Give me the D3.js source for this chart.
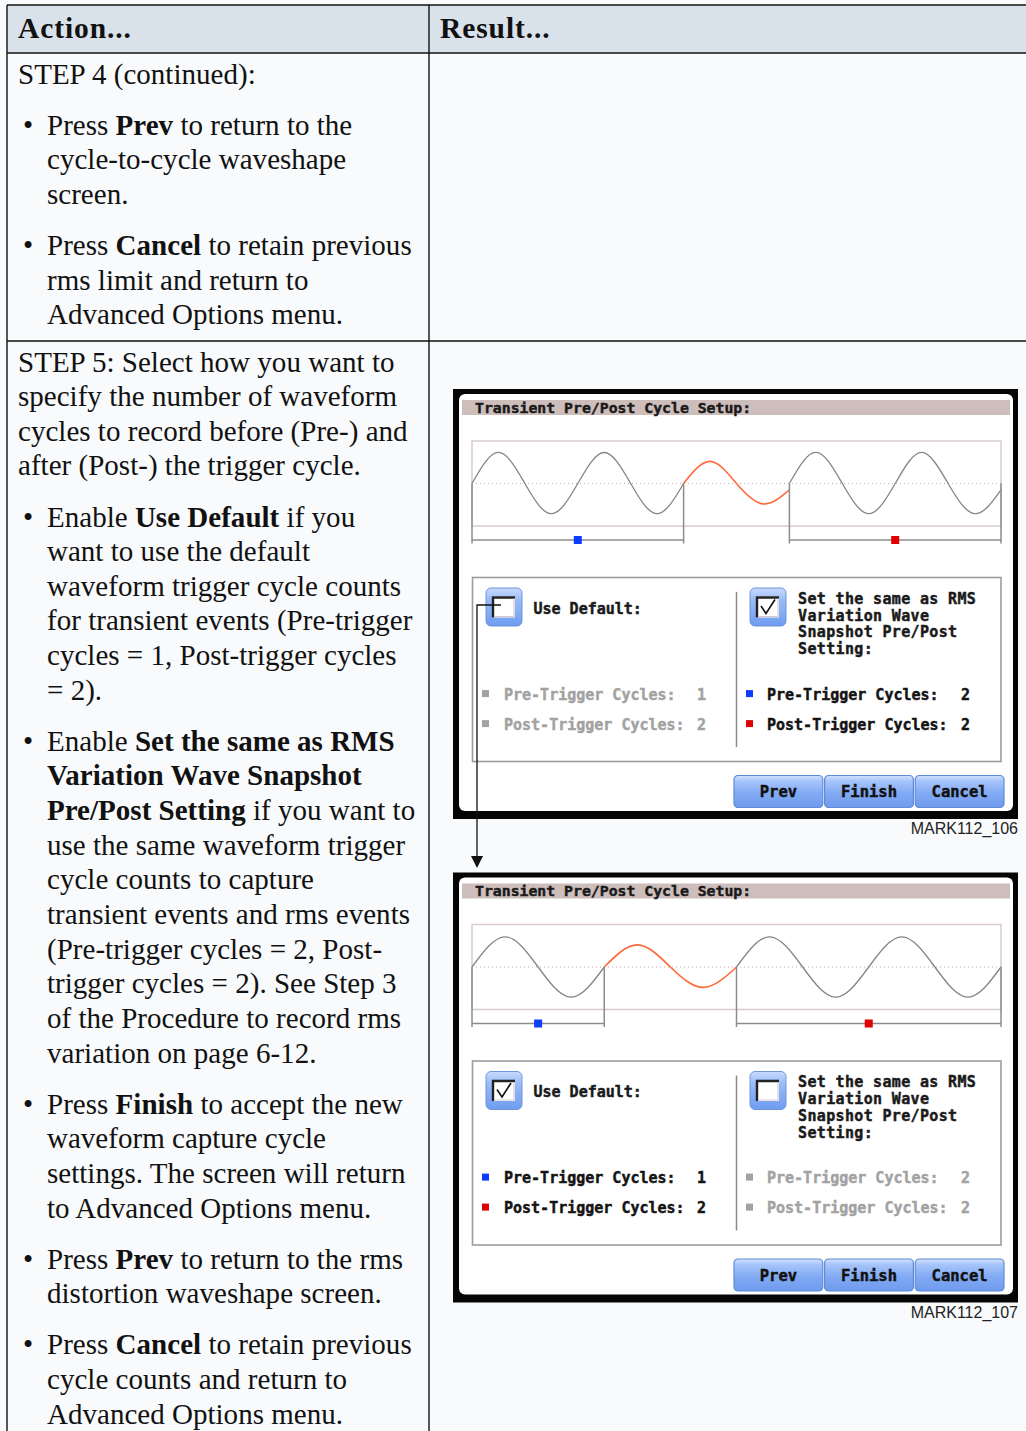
<!DOCTYPE html>
<html><head><meta charset="utf-8">
<script src="https://cdn.jsdelivr.net/npm/d3@7"></script>
<style>
html,body{margin:0;padding:0;background:#f8fafc;}
svg{display:block;}
</style></head><body>
<svg id="page" width="1026" height="1431"></svg>
<script>
// ---------------- data ----------------
const headers = ["Action...", "Result..."];

const step4Paras = [
  ["STEP 4 (continued):"],
  ["Press **Prev** to return to the", "cycle-to-cycle waveshape", "screen."],
  ["Press **Cancel** to retain previous", "rms limit and return to", "Advanced Options menu."]
];
const step4Bullets = [false, true, true];

const step5Paras = [
  ["STEP 5: Select how you want to", "specify the number of waveform", "cycles to record before (Pre-) and", "after (Post-) the trigger cycle."],
  ["Enable **Use Default** if you", "want to use the default", "waveform trigger cycle counts", "for transient events (Pre-trigger", "cycles = 1, Post-trigger cycles", "= 2)."],
  ["Enable **Set the same as RMS**", "**Variation Wave Snapshot**", "**Pre/Post Setting** if you want to", "use the same waveform trigger", "cycle counts to capture", "transient events and rms events", "(Pre-trigger cycles = 2, Post-", "trigger cycles = 2). See Step 3", "of the Procedure to record rms", "variation on page 6-12."],
  ["Press **Finish** to accept the new", "waveform capture cycle", "settings. The screen will return", "to Advanced Options menu."],
  ["Press **Prev** to return to the rms", "distortion waveshape screen."],
  ["Press **Cancel** to retain previous", "cycle counts and return to", "Advanced Options menu."]
];
const step5Bullets = [false, true, true, true, true, true];

// screen contents
const screenTitle = "Transient Pre/Post Cycle Setup:";
const screenLabels = ["MARK112_106", "MARK112_107"];
const useDefaultChecked = [false, true];
const preCycleCounts = [2, 1];     // pre-trigger cycles drawn in each screen
const postCycleCounts = [2, 2];    // post-trigger cycles drawn in each screen
const defaultCounts = [1, 2];      // Use Default: Pre, Post
const rmsCounts = [2, 2];          // Same as RMS: Pre, Post
const countLabels = ["Pre-Trigger Cycles:", "Post-Trigger Cycles:"];
const useDefaultLabel = "Use Default:";
const rmsLabelLines = ["Set the same as RMS", "Variation Wave", "Snapshot Pre/Post", "Setting:"];
const buttons = ["Prev", "Finish", "Cancel"];

// waveform samples (quarter-cycle readings, % of half-scale)
const s1GrayPre  = [0, 73, 0, -71, 0, 73, 0, -71, 0];
const s1Trigger  = [0, 52, 0, -48, -15];
const s1GrayPost = [0, 73, 0, -71, 0, 73, 0, -71, -15];
const s2GrayPre  = [0, 71, 0, -71, 0];
const s2Trigger  = [0, 52, 0, -48, 0];
const s2GrayPost = [0, 71, 0, -71, 0, 71, 0, -71, 0];
const waves = [
  {pre: s1GrayPre, trig: s1Trigger, post: s1GrayPost},
  {pre: s2GrayPre, trig: s2Trigger, post: s2GrayPost}
];

// ---------------- drawing ----------------
const svg = d3.select("#page");
const serif = "'Liberation Serif','Times New Roman',Times,serif";
const pix = "'DejaVu Sans Mono',monospace";

const defs = svg.append("defs");
function grad(id, stops){
  const g = defs.append("linearGradient").attr("id", id).attr("x1",0).attr("y1",0).attr("x2",0).attr("y2",1);
  stops.forEach(s => g.append("stop").attr("offset", s[0]).attr("stop-color", s[1]));
}
grad("btnGrad", [["0%","#d2e2fd"],["18%","#a6c4fa"],["55%","#82aaf3"],["100%","#6f9aee"]]);
grad("cbGrad", [["0%","#c9dbfd"],["30%","#9bbcf8"],["100%","#6e9cf0"]]);

function pixText(sel, color){
  return sel.attr("font-family",pix).attr("font-weight","bold").attr("font-size",15)
    .attr("fill",color).attr("stroke",color).attr("stroke-width",0.45);
}

// table
svg.append("rect").attr("x",7).attr("y",5).attr("width",1026-7).attr("height",48).attr("fill","#d9e1ea");
const tl = svg.append("g").attr("stroke","#111").attr("stroke-width",1.4);
[[7,5,1026,5],[7,53,1026,53],[7,341,1026,341],[7,5,7,1431],[429,5,429,1431]].forEach(l=>{
  tl.append("line").attr("x1",l[0]).attr("y1",l[1]).attr("x2",l[2]).attr("y2",l[3]);
});
svg.selectAll("text.hdr").data(headers).enter().append("text").attr("class","hdr")
  .attr("x",(d,i)=>[18,440][i]).attr("y",37.5)
  .attr("font-family",serif).attr("font-weight","bold").attr("font-size",29.5).attr("letter-spacing",0.9)
  .attr("fill","#111").text(d=>d);

function drawParas(paras, bullets, startY){
  const lh = 34.65, gap = 16.4;
  let idx = 0;
  paras.forEach((lines, p) => {
    lines.forEach((ln, j) => {
      const y = startY + idx*lh + p*gap;
      const x = bullets[p] ? 47 : 18;
      if (bullets[p] && j === 0){
        svg.append("text").attr("x",23).attr("y",y).attr("font-family",serif).attr("font-size",29).attr("fill","#111").text("•");
      }
      const t = svg.append("text").attr("x",x).attr("y",y).attr("font-family",serif).attr("font-size",29)
        .attr("letter-spacing",0.02).attr("fill","#111");
      ln.split("**").forEach((seg, k) => {
        if (!seg) return;
        t.append("tspan").attr("font-weight", k%2 ? "bold" : "normal").text(seg);
      });
      idx++;
    });
  });
}
drawParas(step4Paras, step4Bullets, 83.5);
drawParas(step5Paras, step5Bullets, 371.5);

// screens
const screenTops = [389, 872.5];
function drawScreen(si){
  const g = svg.append("g").attr("transform", `translate(453,${screenTops[si]})`);
  g.append("rect").attr("width",565).attr("height",430).attr("fill","#050505");
  g.append("rect").attr("x",6).attr("y",5).attr("width",554).attr("height",417).attr("rx",6).attr("fill","#ffffff");
  g.append("rect").attr("x",9).attr("y",11).attr("width",548).attr("height",15).attr("fill","#cdbebc");
  pixText(g.append("text").attr("x",22).attr("y",23.5), "#1a1a1a").attr("font-size",14.8).text(screenTitle);

  // waveform
  const w = waves[si];
  const pre = preCycleCounts[si], post = postCycleCounts[si];
  const total = pre + 1 + post;
  const x = d3.scaleLinear().domain([0,total]).range([19,548]);
  const y = d3.scaleLinear().domain([-100,100]).range([137,52]);
  const midY = y(0), brY = 151, tickB = 154.5;
  g.append("rect").attr("x",x(0)).attr("y",y(100)).attr("width",x(total)-x(0)).attr("height",y(-100)-y(100))
    .attr("fill","none").attr("stroke","#d9cbcb").attr("stroke-width",1.5);
  g.append("line").attr("x1",x(0)).attr("x2",x(total)).attr("y1",midY).attr("y2",midY)
    .attr("stroke","#c8a6a6").attr("stroke-width",1).attr("stroke-dasharray","1,3");
  const line = d3.line().x(d=>x(d[0])).y(d=>y(d[1])).curve(d3.curveNatural);
  const pts = (arr, start) => arr.map((v,i)=>[start + i*0.25, v]);
  g.append("path").attr("d", line(pts(w.pre,0))).attr("fill","none").attr("stroke","#858585").attr("stroke-width",1.3);
  g.append("path").attr("d", line(pts(w.trig,pre))).attr("fill","none").attr("stroke","#ff6a3c").attr("stroke-width",1.6);
  g.append("path").attr("d", line(pts(w.post,pre+1))).attr("fill","none").attr("stroke","#858585").attr("stroke-width",1.3);
  const br = g.append("g").attr("stroke","#8c8c8c").attr("stroke-width",1.5);
  [0, pre, pre+1, total].forEach(c => br.append("line").attr("x1",x(c)).attr("x2",x(c)).attr("y1", midY).attr("y2",tickB));
  br.append("line").attr("x1",x(0)).attr("x2",x(pre)).attr("y1",brY).attr("y2",brY);
  br.append("line").attr("x1",x(pre+1)).attr("x2",x(total)).attr("y1",brY).attr("y2",brY);
  g.append("rect").attr("x",x(pre/2)-4).attr("y",brY-4).attr("width",8).attr("height",8).attr("fill","#0b3cff");
  g.append("rect").attr("x",x(pre+1+post/2)-4).attr("y",brY-4).attr("width",8).attr("height",8).attr("fill","#e00000");

  // option panel
  g.append("rect").attr("x",19.5).attr("y",188.5).attr("width",528.5).attr("height",184)
    .attr("fill","none").attr("stroke","#9c9c9c").attr("stroke-width",1.6);
  g.append("line").attr("x1",283.5).attr("x2",283.5).attr("y1",203).attr("y2",358).attr("stroke","#8a8a8a").attr("stroke-width",1.5);

  function checkbox(cx, checked){
    const c = g.append("g").attr("transform",`translate(${cx},199)`);
    c.append("rect").attr("width",36).attr("height",38).attr("rx",5).attr("fill","url(#cbGrad)").attr("stroke","#6f95d8").attr("stroke-width",1);
    c.append("rect").attr("x",6).attr("y",8.5).attr("width",23).attr("height",21).attr("fill","#ffffff");
    c.append("path").attr("d","M7,29.5 V9.5 H29").attr("fill","none").attr("stroke","#222").attr("stroke-width",2.4);
    c.append("path").attr("d","M8.5,28.5 H28 V10.5").attr("fill","none").attr("stroke","#d7c9c9").attr("stroke-width",1.2);
    if (checked) c.append("path").attr("d","M11,18 L16,25.5 L25,11.5").attr("fill","none").attr("stroke","#111").attr("stroke-width",1.6);
  }
  const ud = useDefaultChecked[si];
  checkbox(33, ud);
  checkbox(297, !ud);
  pixText(g.append("text").attr("x",80.5).attr("y",224.5), "#1a1a1a").text(useDefaultLabel);
  pixText(g.selectAll("text.rms").data(rmsLabelLines).enter().append("text").attr("class","rms")
    .attr("x",345).attr("y",(d,i)=>214.6+i*16.9), "#1a1a1a")
    .attr("letter-spacing",0.35).text(d=>d);

  const cols = [
    {bx:29, tx:51, vx:244, vals: defaultCounts, on: ud},
    {bx:293, tx:314, vx:508, vals: rmsCounts, on: !ud}
  ];
  const bulletCols = ["#0b3cff", "#e00000"];
  cols.forEach(col => {
    countLabels.forEach((lab, r) => {
      const yy = 310.6 + r*30;
      const fc = col.on ? "#141414" : "#a2a2a2";
      g.append("rect").attr("x",col.bx).attr("y",yy-9.5).attr("width",7).attr("height",7)
        .attr("fill", col.on ? bulletCols[r] : "#a2a2a2");
      pixText(g.append("text").attr("x",col.tx).attr("y",yy), fc).text(lab);
      pixText(g.append("text").attr("x",col.vx).attr("y",yy), fc).text(col.vals[r]);
    });
  });

  const bx = d3.scaleBand().domain(buttons).range([281,551]).paddingInner(0.02);
  const bg = g.selectAll("g.btn").data(buttons).enter().append("g").attr("class","btn")
    .attr("transform", d=>`translate(${bx(d)},386.5)`);
  bg.append("rect").attr("width",bx.bandwidth()).attr("height",32).attr("rx",4)
    .attr("fill","url(#btnGrad)").attr("stroke","#5f8ad8").attr("stroke-width",1.2);
  pixText(bg.append("text").attr("x",bx.bandwidth()/2).attr("y",21.5).attr("text-anchor","middle"), "#111")
    .attr("font-size",15.5).text(d=>d);

  g.append("text").attr("x",565).attr("y",445).attr("text-anchor","end")
    .attr("font-family","'Liberation Sans',Arial,sans-serif").attr("font-size",16).attr("fill","#222").text(screenLabels[si]);
}
drawScreen(0);
drawScreen(1);

// connector arrow
svg.append("path").attr("d","M501,605 H477 V858").attr("fill","none").attr("stroke","#111").attr("stroke-width",1.3);
svg.append("path").attr("d","M471,856 L483,856 L477,868 Z").attr("fill","#111");
</script>
</body></html>
